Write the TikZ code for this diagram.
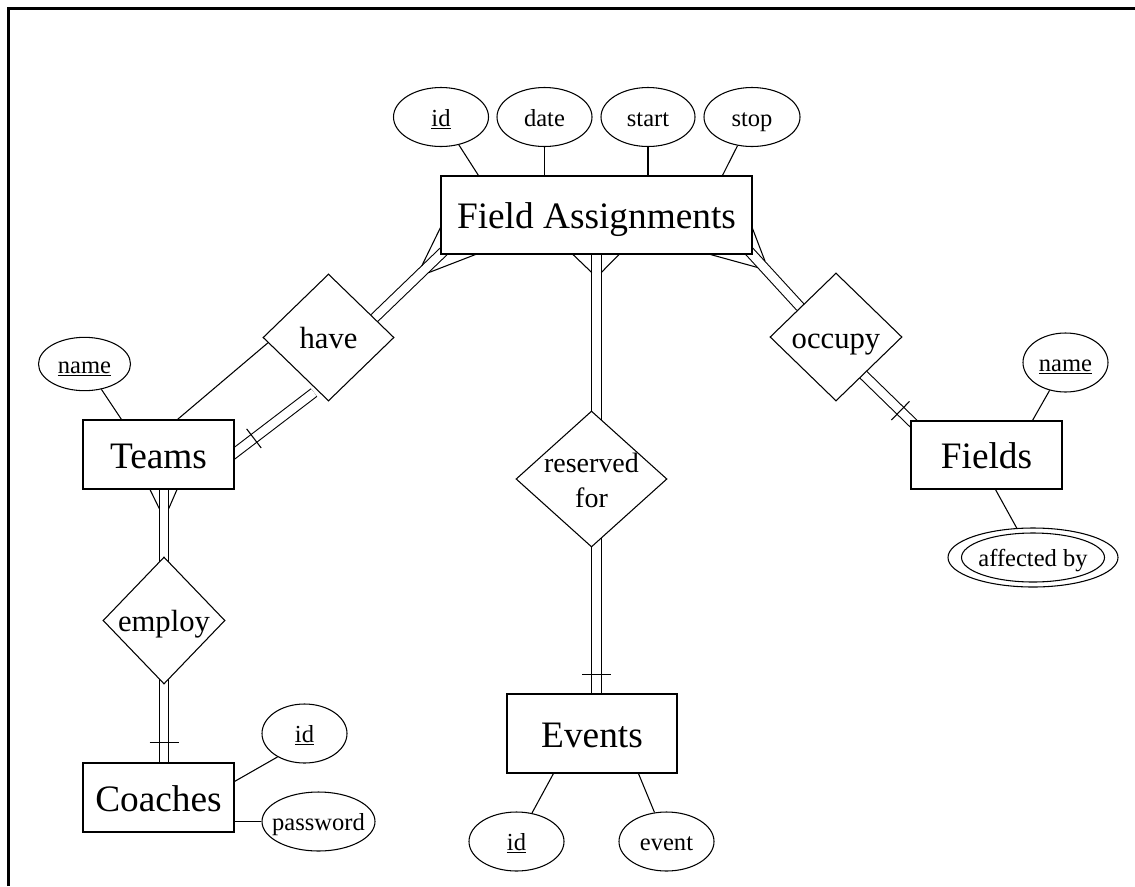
\documentclass[tikz,border=0pt]{standalone}
\usepackage{fontspec}
\setmainfont{Liberation Serif}
\usetikzlibrary{shapes.geometric,calc,backgrounds}
\begin{document}
\begin{tikzpicture}[x=0.75pt,y=-0.75pt,
  every node/.style={line width=0.8pt},
  ent/.style={draw,fill=white,rectangle,inner sep=0pt,font=\fontsize{28}{30}\selectfont,text height=20.7pt,text depth=0pt},
  attr/.style={draw,fill=white,ellipse,inner ysep=0pt,inner xsep=-12pt,font=\fontsize{18.4}{20}\selectfont,text height=13.6pt,text depth=0pt,minimum width=71.25pt,minimum height=44.25pt},
  rel/.style={draw,fill=white,diamond,inner sep=0pt,font=\fontsize{23}{26}\selectfont,text height=17pt,text depth=0pt},
  conn/.style={line width=0.8pt},
  dbl/.style={line width=0.8pt,double,double distance=6.3pt},
]
\useasboundingbox (0,0) rectangle (1135,886);
\draw[line width=1.9pt] (8.5,886) -- (8.5,8.5) -- (1135,8.5);

% entities
\node[ent,minimum width=233.25pt,minimum height=58.5pt] (fa) at (596.5,215) {Field Assignments};
\node[ent,minimum width=113.25pt,minimum height=51.75pt] (teams) at (158.5,454.5) {Teams};
\node[ent,minimum width=113.25pt,minimum height=51pt] (fields) at (986.5,455) {Fields};
\node[ent,minimum width=113.25pt,minimum height=51.75pt] (coaches) at (158.5,797.5) {Coaches};
\node[ent,minimum width=127.5pt,minimum height=59.25pt] (events) at (592,733.5) {Events};

% relationships
\node[rel,minimum width=98.25pt,minimum height=95.25pt] (have) at (328.5,337.5) {have};
\node[rel,minimum width=99pt,minimum height=96pt] (occupy) at (836,337) {occupy};
\node[rel,minimum width=113.25pt,minimum height=102pt,label={[font=\fontsize{21}{26.75}\selectfont,align=center,yshift=-1pt]center:{reserved\\for}}] (res) at (591.5,479) {};
\node[rel,minimum width=91.5pt,minimum height=95.25pt] (employ) at (164,620.5) {employ};

% attributes
\node[attr] (fid) at (441,117) {\underline{id}};
\node[attr] (fdate) at (544.5,117) {date};
\node[attr,minimum width=70.5pt] (fstart) at (648,117) {start};
\node[attr,minimum width=72pt] (fstop) at (752,117) {stop};
\node[attr,minimum width=69pt,minimum height=40pt] (tname) at (84.5,364) {\underline{name}};
\node[attr,minimum width=63.75pt] (fname) at (1065.5,362.5) {\underline{name}};
\node[attr,minimum width=127.5pt] (aff) at (1033,557.5) {affected by};
\node[draw,ellipse,inner sep=0pt,minimum width=107.25pt,minimum height=36.75pt] (affin) at (aff.center) {};
\node[attr,minimum width=63.75pt] (cid) at (304.5,733.5) {\underline{id}};
\node[attr,minimum width=84.75pt] (pw) at (318.5,821.5) {password};
\node[attr] (eid) at (516.5,841.5) {\underline{id}};
\node[attr] (eev) at (666.5,841.5) {event};

\begin{scope}[on background layer]
% attribute links
\draw[conn] (fid) -- ($(fa.north west)+(38,0)$);
\draw[conn] (fdate) -- (fdate.center |- fa.north);
\draw[conn] (fstart) -- (fstart.center |- fa.north);
\draw[conn] (fstop) -- ($(fa.north west)+(282,0)$);
\draw[conn] (tname) -- ($(teams.north west)+(39,0)$);
\draw[conn] (fname) -- ($(fields.north west)+(122,0)$);
\draw[conn] (aff) -- ($(fields.south west)+(85,0)$);
\draw[conn] (cid.-139) -- ($(coaches.north east)+(0,19)$);
\draw[conn] (pw.west) -- (pw.west -| coaches.east);
\draw[conn] (eid) -- ($(events.south west)+(47,0)$);
\draw[conn] (eev) -- ($(events.south west)+(132,0)$);

% Teams - have
\draw[conn] ($(teams.north west)+(95,0)$) -- (have.185);
\coordinate (tA) at ($(teams.east)+(-5,2.5)$);
\coordinate (tB) at ($(have.south)+(-14.5,-9)$);
\draw[dbl] (tA) -- (tB);
\coordinate (tX) at ($(tA)!23pt!(tB)$);
\draw[conn] ($(tX)!9pt!90:(tB)$) -- ($(tX)!9pt!-90:(tB)$);

% have - Field Assignments
\coordinate (hA) at (have.23);
\coordinate (hB) at ($(fa.south west)+(4,-4)$);
\draw[dbl] (hA) -- (hB);
\coordinate (hK) at ($(fa.south west)!16pt!(hA)$);
\draw[conn] ($(hK)!3.56pt!-90:(hA)$) -- ($(fa.south west)+(0,-27)$);
\draw[conn] ($(hK)!3.56pt!90:(hA)$) -- ($(fa.south west)+(35,0)$);

% Field Assignments - occupy
\coordinate (oA) at (occupy.140);
\coordinate (oB) at ($(fa.south east)+(-4,-4)$);
\draw[dbl] (oA) -- (oB);
\coordinate (oK) at ($(fa.south east)!10pt!(oA)$);
\draw[conn] ($(oK)!3.56pt!90:(oA)$) -- ($(fa.south east)+(0,-26)$);
\draw[conn] ($(oK)!3.56pt!-90:(oA)$) -- ($(fa.south east)+(-42,0)$);

% occupy - Fields
\coordinate (fA) at (occupy.-54);
\coordinate (fB) at ($(fields.north west)+(4,4)$);
\draw[dbl] (fA) -- (fB);
\coordinate (fX) at ($(fields.north west)!10.5pt!(fA)$);
\draw[conn] ($(fX)!9.75pt!90:(fA)$) -- ($(fX)!9.75pt!-90:(fA)$);

% Field Assignments - reserved for - Events
\draw[dbl] ($(fa.south)+(0,-4)$) -- (fa.south |- res.center);
\draw[dbl] (fa.south |- res.center) -- (fa.south |- events.center);
\draw[conn] ($(fa.south)+(-23.5,0)$) -- ($(fa.south)+(-4.75,18)$);
\draw[conn] ($(fa.south)+(22.5,0)$) -- ($(fa.south)+(4.75,18)$);
\draw[conn] ($(fa.south |- events.north)+(-14.5,-19)$) -- ($(fa.south |- events.north)+(14.5,-19)$);

% Teams - employ - Coaches
\draw[dbl] (employ.center |- teams.center) -- (employ.center);
\draw[dbl] (employ.center) -- (employ.center |- coaches.center);
\draw[conn] ($(teams.south)+(-8.5,0)$) -- ($(employ.center |- teams.south)+(-4.75,19)$);
\draw[conn] ($(teams.south)+(18.5,0)$) -- ($(employ.center |- teams.south)+(4.75,19)$);
\draw[conn] ($(employ.center |- coaches.north)+(-14.5,-20)$) -- ($(employ.center |- coaches.north)+(14.5,-20)$);
\end{scope}
\end{tikzpicture}
\end{document}
